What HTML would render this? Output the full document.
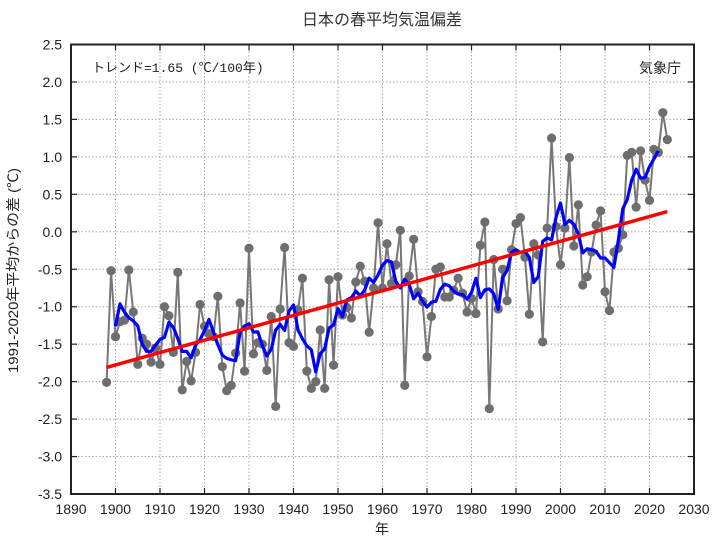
<!DOCTYPE html>
<html><head><meta charset="utf-8"><style>
html,body{margin:0;padding:0;background:#fff;}
svg{display:block;}
</style></head><body>
<svg id="c" width="720" height="540" xmlns="http://www.w3.org/2000/svg" font-family="'Liberation Sans','Noto Sans CJK JP',sans-serif">
<rect width="720" height="540" fill="#fff"/>
<g id="grid" stroke="#a8a8a8" stroke-width="1" stroke-dasharray="1.5,2"></g>
<g id="ticks" stroke="#222" stroke-width="1.2"></g>
<g id="ylab" font-size="14" fill="#222" text-anchor="end"></g>
<g id="xlab" font-size="14" fill="#222" text-anchor="middle"></g>
<g id="series"></g>
<rect x="71" y="44.5" width="623" height="449.5" fill="none" stroke="#222" stroke-width="2"/>
<text x="382" y="25" font-size="16" text-anchor="middle" fill="#333">日本の春平均気温偏差</text>
<text x="92" y="72" font-size="13" fill="#222" font-family="'Liberation Mono','Noto Sans CJK JP',monospace">トレンド=1.65 (℃/100年)</text>
<text x="681" y="73" font-size="14" fill="#222" text-anchor="end">気象庁</text>
<text x="382" y="534" font-size="14" fill="#222" text-anchor="middle">年</text>
<text transform="translate(18,270.5) rotate(-90)" font-size="14" fill="#222" text-anchor="middle" textLength="205" lengthAdjust="spacingAndGlyphs">1991-2020年平均からの差 (℃)</text>
</svg>
<script>
(function(){
var NS="http://www.w3.org/2000/svg";
function el(t,a,p,txt){var e=document.createElementNS(NS,t);for(var k in a)e.setAttribute(k,a[k]);if(txt!==undefined)e.textContent=txt;p.appendChild(e);return e;}
var X=function(y){return 71+(y-1890)*4.45;}, Y=function(v){return 231.8-v*74.92;};
var grid=document.getElementById('grid'),ticks=document.getElementById('ticks'),yl=document.getElementById('ylab'),xl=document.getElementById('xlab'),s=document.getElementById('series');
for(var yr=1890;yr<=2030;yr+=10){var x=X(yr);
 if(yr>1890&&yr<2030){el('line',{x1:x,y1:44.5,x2:x,y2:494},grid);
 el('line',{x1:x,y1:494,x2:x,y2:488},ticks);el('line',{x1:x,y1:44.5,x2:x,y2:50.5},ticks);}
 el('text',{x:x,y:514},xl,String(yr));}
for(var i=0;i<=12;i++){var v=-3.5+i*0.5,y=Y(v);
 if(i>0&&i<12){el('line',{x1:71,y1:y,x2:694,y2:y},grid);
 el('line',{x1:71,y1:y,x2:77,y2:y},ticks);el('line',{x1:694,y1:y,x2:688,y2:y},ticks);}
 el('text',{x:62,y:y+5},yl,v.toFixed(1));}
var d=[-2.01,-0.52,-1.40,-1.20,-1.18,-0.51,-1.07,-1.77,-1.42,-1.50,
-1.74,-1.55,-1.77,-1.00,-1.12,-1.61,-0.54,-2.11,-1.73,-1.99,
-1.61,-0.97,-1.26,-1.36,-1.40,-0.86,-1.80,-2.12,-2.05,-1.62,
-0.95,-1.86,-0.22,-1.63,-1.48,-1.50,-1.85,-1.13,-2.33,-1.03,
-0.21,-1.48,-1.53,-1.04,-0.62,-1.86,-2.09,-2.00,-1.31,-2.09,
-0.64,-1.78,-0.60,-1.11,-1.01,-1.15,-0.67,-0.46,-0.66,-1.34,
-0.75,0.12,-0.75,-0.16,-0.69,-0.44,0.02,-2.05,-0.59,-0.10,
-0.80,-0.93,-1.67,-1.13,-0.50,-0.47,-0.87,-0.87,-0.78,-0.62,
-0.82,-1.07,-0.89,-1.09,-0.18,0.13,-2.36,-0.37,-1.03,-0.50,
-0.92,-0.24,0.11,0.19,-0.34,-1.10,-0.16,-0.31,-1.47,0.05,
1.25,0.07,-0.44,0.05,0.99,-0.19,0.36,-0.71,-0.60,-0.27,
0.09,0.28,-0.80,-1.05,-0.27,-0.22,-0.04,1.02,1.06,0.33,
1.08,0.69,0.42,1.10,1.06,1.59,1.23];
var p=[];for(var i=0;i<d.length;i++)p.push(X(1898+i).toFixed(2)+','+Y(d[i]).toFixed(2));
el('polyline',{points:p.join(' '),fill:'none',stroke:'#777','stroke-width':2,'stroke-linejoin':'round'},s);
for(var i=0;i<d.length;i++)el('circle',{cx:X(1898+i),cy:Y(d[i]),r:4.6,fill:'#6e6e6e'},s);
var m=[];for(var i=2;i<d.length-2;i++){var a=(d[i-2]+d[i-1]+d[i]+d[i+1]+d[i+2])/5;m.push(X(1898+i).toFixed(2)+','+Y(a).toFixed(2));}
el('polyline',{points:m.join(' '),fill:'none',stroke:'#0000ff','stroke-width':3.2,'stroke-linejoin':'round'},s);
el('line',{x1:X(1898),y1:Y(-1.81),x2:X(2024),y2:Y(0.27),stroke:'#ff0000','stroke-width':3.5},s);
})();
</script>
</body></html>
